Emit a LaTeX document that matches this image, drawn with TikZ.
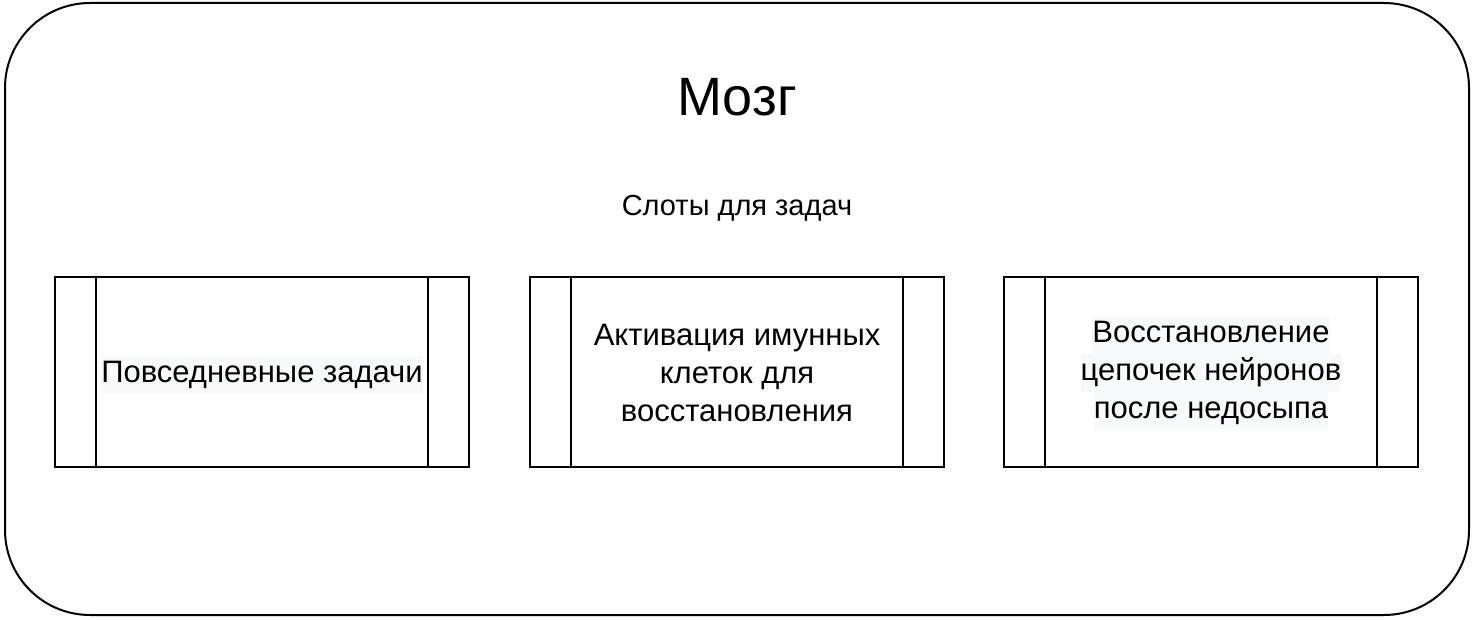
\documentclass[tikz,border=0pt]{standalone}
\usepackage{fontspec}
\setmainfont{Liberation Sans}
\usetikzlibrary{positioning}
\definecolor{hl}{HTML}{F8F9FA}
\newcommand{\hlline}[1]{{\setlength{\fboxsep}{0pt}\colorbox{hl}{\strut #1}}}
\tikzset{
  outer/.style={draw, line width=2pt, rounded corners=85pt},
  procbox/.style={draw, line width=2pt, minimum width=414pt, minimum height=190pt, inner sep=0pt},
  boxtext/.style={align=center, font=\fontsize{31}{38}\selectfont, inner sep=0pt},
  side/.style={line width=2pt},
}
\begin{document}
\begin{tikzpicture}[x=1pt,y=-1pt]
\useasboundingbox (0,0) rectangle (1474,620);
\draw[outer] (5,3) rectangle (1469,615);
\node[font=\fontsize{54}{58}\selectfont] (title) at (737,97) {Мозг};
\node[font=\fontsize{29}{34}\selectfont] (slots) at (737,208) {Слоты для задач};
\node[procbox] (b1) at (262,372) {};
\node[procbox] (b2) at (737,372) {};
\node[procbox] (b3) at (1211,372) {};
\foreach \b in {b1,b2,b3}{
  \draw[side] ([xshift=42pt]\b.north west) -- ([xshift=42pt]\b.south west);
  \draw[side] ([xshift=-42pt]\b.north east) -- ([xshift=-42pt]\b.south east);
}
\node[boxtext] (t1) at ([yshift=-3pt]b1.center) {\hlline{Повседневные задачи}};
\node[boxtext] (t2) at ([yshift=-1pt]b2.center) {Активация имунных\\клеток для\\восстановления};
\node[boxtext] (t3) at ([yshift=-1pt]b3.center) {\hlline{Восстановление}\\\hlline{цепочек нейронов}\\\hlline{после недосыпа}};
\end{tikzpicture}
\end{document}
